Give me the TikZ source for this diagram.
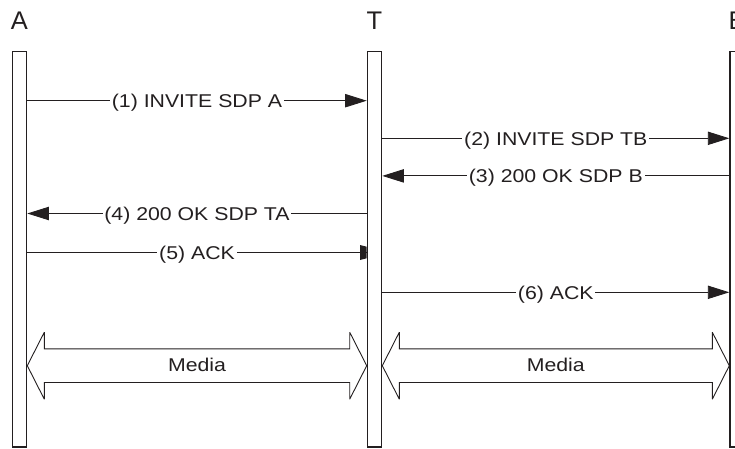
\documentclass[tikz,border=0pt]{standalone}
\usepackage{fontspec}
\setmainfont{Liberation Sans}
\newfontfamily\lblfont[FakeStretch=1.15]{Liberation Sans}
\usetikzlibrary{arrows.meta,calc}

\definecolor{ink}{HTML}{231F20}

\tikzset{
  bar/.style={draw=ink, line width=1.5pt, fill=white, inner sep=0pt,
              minimum width=14.1pt, minimum height=395.2pt},
  head/.style={font=\fontsize{25.5}{28}\selectfont, text=ink, anchor=base, inner sep=0pt},
  msg/.style={draw=ink, line width=0.9pt},
  tipped/.style={msg, -{Triangle[length=21.5pt,width=13.3pt]}},
  lbl/.style={font=\lblfont\fontsize{18.5}{20}\selectfont, text=ink, fill=white,
              anchor=base, inner xsep=1.8pt, inner ysep=1pt, yshift=-7pt},
  media/.style={draw=ink, line width=0.9pt, line join=miter, miter limit=4},
  medialbl/.style={font=\lblfont\fontsize{18.5}{20}\selectfont, text=ink,
              anchor=base, inner sep=0pt, yshift=-6pt},
}

% double-headed block arrow between two named points
\newcommand\mediaarrow[2]{%
  \draw[media] let \p1=(#1), \p2=(#2) in
    (\p1) -- (\x1+17pt,\y1+33.5pt) -- (\x1+17pt,\y1+16.8pt)
    -- (\x2-17pt,\y1+16.8pt) -- (\x2-17pt,\y1+33.5pt) -- (\p2)
    -- (\x2-17pt,\y1-33.5pt) -- (\x2-17pt,\y1-16.8pt)
    -- (\x1+17pt,\y1-16.8pt) -- (\x1+17pt,\y1-33.5pt) -- cycle;}

\begin{document}
\begin{tikzpicture}[x=1pt,y=-1pt]
  \useasboundingbox (0,0) rectangle (735,449);
  \clip (0,0) rectangle (735,449);

  % row positions
  \coordinate (hd) at (0,30);
  \coordinate (r1) at (0,100.7);
  \coordinate (r2) at (0,138.3);
  \coordinate (r3) at (0,175.9);
  \coordinate (r4) at (0,213.5);
  \coordinate (r5) at (0,252.7);
  \coordinate (r6) at (0,292.3);
  \coordinate (rm) at (0,365.7);

  % life lines
  \node[bar] (A) at (19.5,249.35) {};
  \node[bar] (T) at (374.5,249.35) {};
  \node[bar] (B) at (737.1,249.35) {};

  \node[head] (la) at (A.center |- hd) {A};
  \node[head] (lt) at (T.center |- hd) {T};
  \node[head] (lb) at (B.center |- hd) {B};

  % (1) A -> T
  \draw[tipped] (A.east |- r1) -- (T.west |- r1);
  \node[lbl] (m1) at ($(A.east |- r1)!.5!(T.west |- r1)$) {(1) INVITE SDP A};

  % (2) T -> B
  \draw[tipped] (T.east |- r2) -- (B.west |- r2);
  \node[lbl] (m2) at ($(T.east |- r2)!.5!(B.west |- r2)$) {(2) INVITE SDP TB};

  % (3) B -> T
  \draw[tipped] (B.west |- r3) -- (T.east |- r3);
  \node[lbl] (m3) at ($(T.east |- r3)!.5!(B.west |- r3)$) {(3) 200 OK SDP B};

  % (4) T -> A
  \draw[tipped] (T.west |- r4) -- (A.east |- r4);
  \node[lbl] (m4) at ($(A.east |- r4)!.5!(T.west |- r4)$) {(4) 200 OK SDP TA};

  % (5) A -> T, with a blunt head
  \draw[msg] (A.east |- r5) -- (T.west |- r5);
  \fill[ink] ($(T.west |- r5)+(-6.7,-7.7)$) -- ++(6.7,1.7) -- ++(0,11.6)
             -- ++(-6.7,1.7) -- cycle;
  \node[lbl] (m5) at ($(A.east |- r5)!.5!(T.west |- r5)$) {(5) ACK};

  % (6) T -> B
  \draw[tipped] (T.east |- r6) -- (B.west |- r6);
  \node[lbl] (m6) at ($(T.east |- r6)!.5!(B.west |- r6)$) {(6) ACK};

  % media streams
  \mediaarrow{A.east |- rm}{T.west |- rm}
  \node[medialbl] (ma) at ($(A.east |- rm)!.5!(T.west |- rm)$) {Media};
  \mediaarrow{T.east |- rm}{B.west |- rm}
  \node[medialbl] (mb) at ($(T.east |- rm)!.5!(B.west |- rm)$) {Media};
\end{tikzpicture}
\end{document}
